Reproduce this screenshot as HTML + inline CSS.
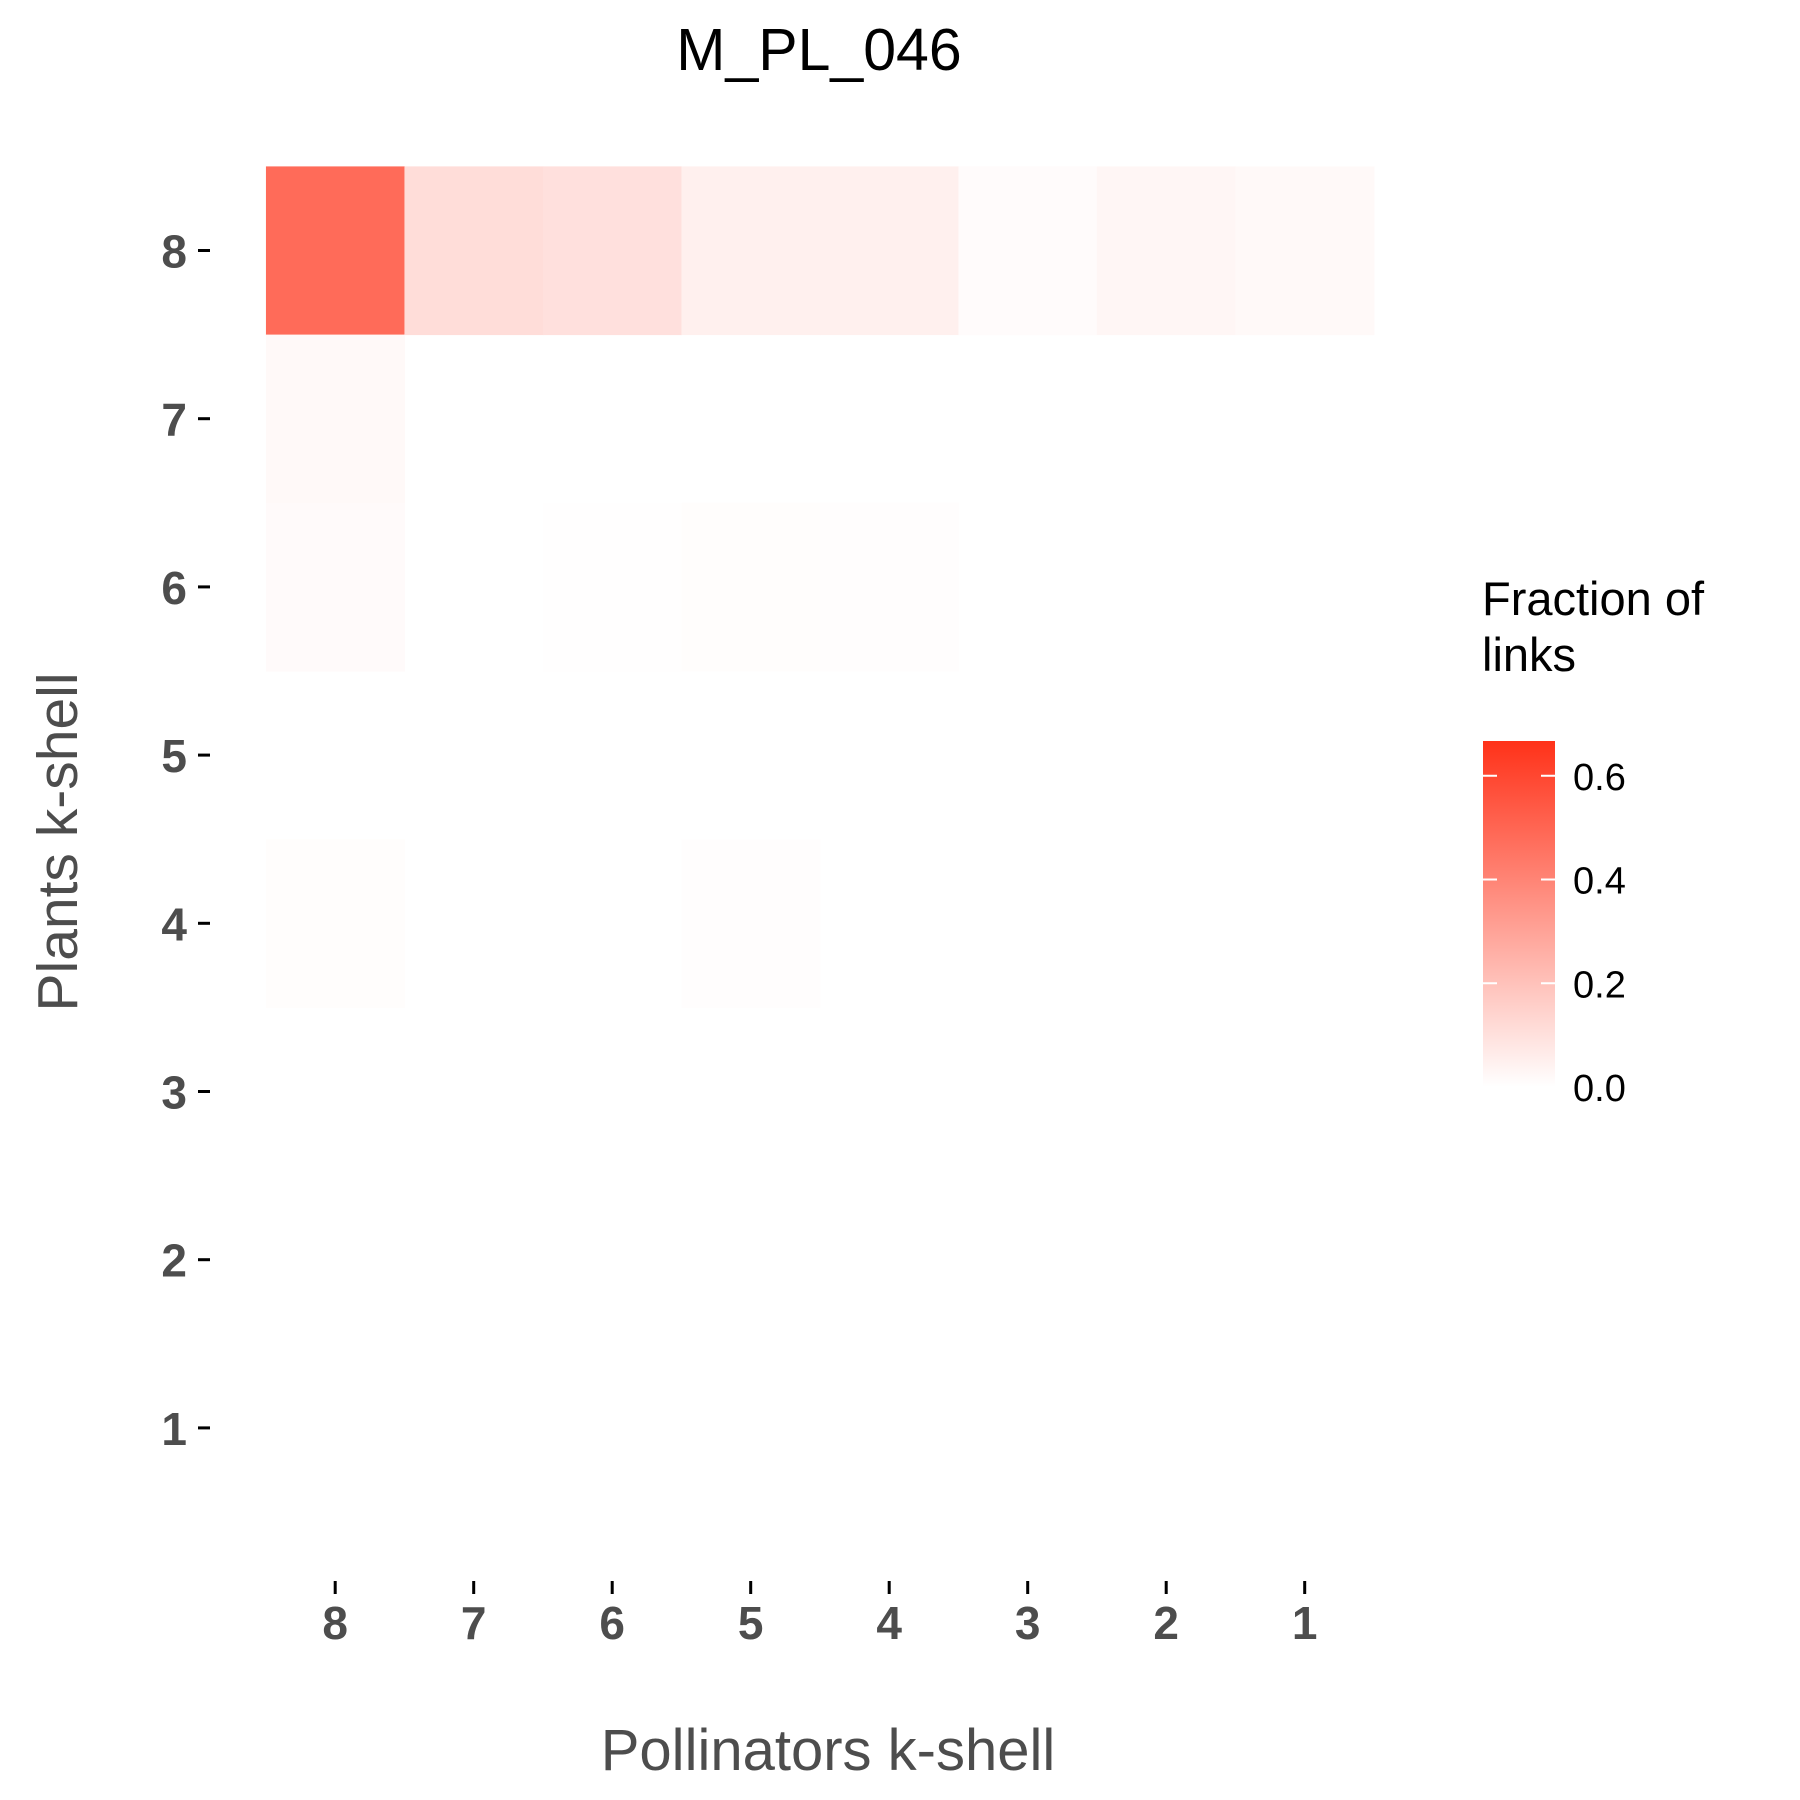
<!DOCTYPE html>
<html><head><meta charset="utf-8"><style>
html,body{margin:0;padding:0;background:#fff;}
svg{display:block;font-family:"Liberation Sans",Arial,sans-serif;}
</style></head><body>
<svg id="chart" width="1800" height="1800" viewBox="0 0 1800 1800">
<defs>
<linearGradient id="lg" x1="0" y1="1" x2="0" y2="0">
<stop offset="0" stop-color="#ffffff"/>
<stop offset="1" stop-color="#ff3219"/>
</linearGradient>
</defs>
<text x="819" y="70" font-size="59" text-anchor="middle" fill="#000">M_PL_046</text>
<g id="cells"></g>
<g id="yaxis"></g>
<g id="xaxis"></g>
<text transform="translate(77,842) rotate(-90)" font-size="57" text-anchor="middle" fill="#4d4d4d">Plants k-shell</text>
<text x="828" y="1770" font-size="58" text-anchor="middle" fill="#4d4d4d">Pollinators k-shell</text>
<g>
<text x="1482" y="615" font-size="47" fill="#000">Fraction of</text>
<text x="1482" y="671" font-size="47" fill="#000">links</text>
<rect id="lbar" x="1483" y="741" width="72" height="346" fill="url(#lg)"/>
<g id="lticks"></g>
</g>
</svg>
<script>
const xCategories = [8,7,6,5,4,3,2,1];
const yCategories = [8,7,6,5,4,3,2,1];
const cellX = [8,7,6,5,4,3,2,1, 8, 8,6,5,4, 8,5];
const cellY = [8,8,8,8,8,8,8,8, 7, 6,6,6,6, 4,4];
const cellValues = [0.48,0.11,0.10,0.05,0.05,0.012,0.03,0.02, 0.02, 0.015,0.004,0.008,0.005, 0.008,0.005];
const legendTicks = [0.0,0.2,0.4,0.6];
const legendMax = 0.667;

const NS="http://www.w3.org/2000/svg";
const cellW=138.5, cellH=168.2;
function xPos(k){return 335.2+xCategories.indexOf(k)*cellW;}
function yPos(k){return 250.5+yCategories.indexOf(k)*cellH;}
function color(v){const t=Math.min(1,v/legendMax);
 const r=255,g=Math.round(255-(255-50)*t),b=Math.round(255-(255-25)*t);
 return `rgb(${r},${g},${b})`;}
function legY(v){return 1087-(v/legendMax)*346;}
const cg=document.getElementById('cells');
cellValues.forEach((v,i)=>{
 const r=document.createElementNS(NS,'rect');
 r.setAttribute('x',xPos(cellX[i])-cellW/2);
 r.setAttribute('y',yPos(cellY[i])-cellH/2);
 r.setAttribute('width',cellW+0.5);r.setAttribute('height',cellH+0.5);
 r.setAttribute('fill',color(v));
 
 
 cg.appendChild(r);
});
const ya=document.getElementById('yaxis');
yCategories.forEach(k=>{
 const y=yPos(k);
 const t=document.createElementNS(NS,'text');
 t.setAttribute('x',187);t.setAttribute('y',y+17);t.setAttribute('text-anchor','end');
 t.setAttribute('font-size','46');t.setAttribute('font-weight','bold');t.setAttribute('fill','#4d4d4d');
 t.textContent=k;
 
 
 ya.appendChild(t);
 const l=document.createElementNS(NS,'rect');
 l.setAttribute('x',198);l.setAttribute('y',y-1.5);l.setAttribute('width',12);l.setAttribute('height',3);l.setAttribute('fill','#000');
 
 
 ya.appendChild(l);
});
const xa=document.getElementById('xaxis');
xCategories.forEach(k=>{
 const x=xPos(k);
 const l=document.createElementNS(NS,'rect');
 l.setAttribute('x',x-1.5);l.setAttribute('y',1581);l.setAttribute('width',3);l.setAttribute('height',13);l.setAttribute('fill','#000');
 
 
 xa.appendChild(l);
 const t=document.createElementNS(NS,'text');
 t.setAttribute('x',x);t.setAttribute('y',1639);t.setAttribute('text-anchor','middle');
 t.setAttribute('font-size','46');t.setAttribute('font-weight','bold');t.setAttribute('fill','#4d4d4d');
 t.textContent=k;
 
 
 xa.appendChild(t);
});
const lt=document.getElementById('lticks');
legendTicks.forEach(v=>{
 const y=legY(v);
 if(v>0){
  [1483,1541].forEach(x0=>{
   const l=document.createElementNS(NS,'rect');
   l.setAttribute('x',x0);l.setAttribute('y',y-1);l.setAttribute('width',14);l.setAttribute('height',2);l.setAttribute('fill','#fff');
   
   
   lt.appendChild(l);
  });
 }
 const t=document.createElementNS(NS,'text');
 t.setAttribute('x',1573);t.setAttribute('y',y+14);t.setAttribute('font-size','38');t.setAttribute('fill','#000');
 t.textContent=v.toFixed(1);
 
 
 lt.appendChild(t);
});
</script>
</body></html>
